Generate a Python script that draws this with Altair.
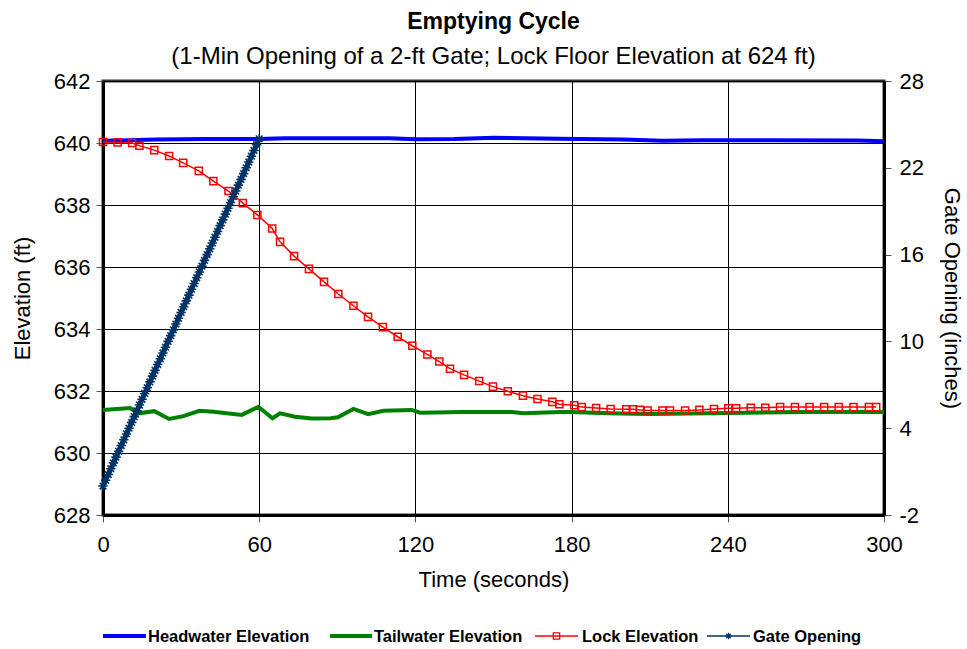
import altair as alt
import pandas as pd

# ---- Series data -------------------------------------------------------
hw_time = [0, 10, 20, 30, 40, 60, 70, 85, 110, 120, 135, 150, 175, 200, 215, 230, 260, 290, 300]
hw_elev = [640.07, 640.09, 640.11, 640.12, 640.13, 640.13, 640.15, 640.15, 640.15, 640.12,
           640.13, 640.17, 640.14, 640.11, 640.07, 640.09, 640.09, 640.08, 640.06]

tw_time = [0, 10.4, 13.6, 19.7, 25.4, 30.9, 37, 42.4, 53.3, 59.7, 65.1, 68, 73.8, 80.2, 87.4,
           90.2, 96.2, 101.9, 107.7, 118.6, 121.8, 138.4, 157, 161.5, 175.6, 179.4, 194.1,
           210, 240, 270, 300]
tw_elev = [631.39, 631.45, 631.28, 631.35, 631.10, 631.19, 631.36, 631.33, 631.23, 631.49,
           631.12, 631.28, 631.17, 631.11, 631.12, 631.15, 631.42, 631.25, 631.36, 631.39,
           631.30, 631.32, 631.32, 631.28, 631.32, 631.32, 631.28, 631.26, 631.29, 631.32, 631.32]

lock_time = [0, 5.6, 11.2, 14, 19.7, 25.4, 30.8, 36.8, 42.4, 48.2, 53.7, 59.3, 65.0, 68.0,
             73.4, 79.1, 84.9, 90.4, 96.2, 101.8, 107.5, 113.2, 118.8, 124.6, 129.2, 133.3,
             138.7, 144.5, 149.8, 155.5, 161.3, 166.9, 172.6, 175.3, 181.0, 183.9, 189.4,
             195.0, 201.0, 203.5, 206.3, 209.2, 214.9, 217.8, 223.6, 229.1, 234.7, 240.2,
             243.2, 248.8, 254.4, 260.1, 265.8, 271.4, 277.0, 282.6, 288.3, 294.2, 297.0]
lock_elev = [640.03, 640.02, 640.00, 639.91, 639.77, 639.58, 639.36, 639.10, 638.77, 638.45,
             638.06, 637.68, 637.24, 636.81, 636.35, 635.94, 635.52, 635.13, 634.75, 634.39,
             634.06, 633.75, 633.46, 633.18, 632.95, 632.72, 632.52, 632.32, 632.14, 631.99,
             631.85, 631.74, 631.65, 631.57, 631.54, 631.48, 631.45, 631.42, 631.41, 631.41,
             631.39, 631.37, 631.37, 631.37, 631.37, 631.39, 631.42, 631.44, 631.44, 631.46,
             631.46, 631.48, 631.48, 631.48, 631.48, 631.48, 631.48, 631.48, 631.48]

gate_time = [0, 1, 2, 3, 4, 5, 6, 7, 8, 9, 10, 11, 12, 13, 14, 15, 16, 17, 18, 19, 20,
             21, 22, 23, 24, 25, 26, 27, 28, 29, 30, 31, 32, 33, 34, 35, 36, 37, 38, 39, 40,
             41, 42, 43, 44, 45, 46, 47, 48, 49, 50, 51, 52, 53, 54, 55, 56, 57, 58, 59, 60]
gate_open = [0.0, 0.4, 0.8, 1.2, 1.6, 2.0, 2.4, 2.8, 3.2, 3.6, 4.0, 4.4, 4.8, 5.2, 5.6, 6.0,
             6.4, 6.8, 7.2, 7.6, 8.0, 8.4, 8.8, 9.2, 9.6, 10.0, 10.4, 10.8, 11.2, 11.6, 12.0,
             12.4, 12.8, 13.2, 13.6, 14.0, 14.4, 14.8, 15.2, 15.6, 16.0, 16.4, 16.8, 17.2,
             17.6, 18.0, 18.4, 18.8, 19.2, 19.6, 20.0, 20.4, 20.8, 21.2, 21.6, 22.0, 22.4,
             22.8, 23.2, 23.6, 24.0]

x_ticks = [0, 60, 120, 180, 240, 300]
left_ticks = [628, 630, 632, 634, 636, 638, 640, 642]
right_ticks = [-2, 4, 10, 16, 22, 28]

series_names = ["Headwater Elevation", "Tailwater Elevation", "Lock Elevation", "Gate Opening"]
series_colors = ["#0000FF", "#008000", "#FF0000", "#003366"]

FONT = "Liberation Sans"
W, H = 781, 434
STAR = "M-1,0L1,0M0,-1L0,1M-0.7,-0.7L0.7,0.7M-0.7,0.7L0.7,-0.7"
PLAIN_LABEL = "datum.value + ''"   # keeps an ASCII hyphen on negative numbers

hw = pd.DataFrame({"t": hw_time, "v": hw_elev})
tw = pd.DataFrame({"t": tw_time, "v": tw_elev})
lk = pd.DataFrame({"t": lock_time, "v": lock_elev})
gt = pd.DataFrame({"t": gate_time, "v": gate_open})

axis_text = dict(labelFont=FONT, titleFont=FONT, labelFontSize=22, titleFontSize=22,
                 labelColor="#000000", titleColor="#000000", titleFontWeight="normal",
                 domainColor="#000000", domainWidth=3, tickColor="#555555", tickSize=7,
                 labelExpr=PLAIN_LABEL, labelFlush=False)

x_enc = alt.X("t:Q", scale=alt.Scale(domain=[0, 300], nice=False),
              axis=alt.Axis(values=x_ticks, title="Time (seconds)", grid=True,
                            gridColor="#000000", gridWidth=1,
                            labelPadding=12, titlePadding=14, **axis_text))

y_left = alt.Y("v:Q", scale=alt.Scale(domain=[628, 642], nice=False, zero=False),
               axis=alt.Axis(values=left_ticks, title="Elevation (ft)", grid=True,
                             gridColor="#000000", gridWidth=1,
                             labelPadding=6, titlePadding=19, **axis_text))

y_right = alt.Y("v:Q", scale=alt.Scale(domain=[-2, 28], nice=False, zero=False),
                axis=alt.Axis(values=right_ticks, title="Gate Opening (inches)",
                              orient="right", grid=False,
                              labelPadding=8, titlePadding=16, **axis_text))

headwater = alt.Chart(hw).mark_line(color=series_colors[0], strokeWidth=4).encode(x=x_enc, y=y_left)
tailwater = alt.Chart(tw).mark_line(color=series_colors[1], strokeWidth=4).encode(x=x_enc, y=y_left)
lock_line = alt.Chart(lk).mark_line(color=series_colors[2], strokeWidth=1.5).encode(x=x_enc, y=y_left)
lock_pts = alt.Chart(lk).mark_point(shape="square", filled=False, color=series_colors[2],
                                    size=50, strokeWidth=1.5, opacity=1).encode(x=x_enc, y=y_left)

gate_line = alt.Chart(gt).mark_line(color=series_colors[3], strokeWidth=5).encode(x=x_enc, y=y_right)
gate_pts = alt.Chart(gt).mark_point(shape=STAR, filled=False, color=series_colors[3],
                                    size=90, strokeWidth=1.6, opacity=1).encode(x=x_enc, y=y_right)

# ---- Legend row below the axis title ------------------------------------
one = pd.DataFrame({"k": [0]})
leg_y = 555
leg_items = [(0, 43, 45), (227, 269, 271), (432, 475, 479), (604, 647, 650)]
legend_layers = []
for i, (x0, x1, tx) in enumerate(leg_items):
    w = 4 if i < 2 else 1.5
    legend_layers.append(
        alt.Chart(one).mark_rule(color=series_colors[i], strokeWidth=w).encode(
            x=alt.value(x0), x2=alt.value(x1), y=alt.value(leg_y)))
    legend_layers.append(
        alt.Chart(one).mark_text(text=series_names[i], align="left", baseline="middle",
                                 font=FONT, fontSize=16.5, fontWeight="bold",
                                 color="#000000").encode(x=alt.value(tx), y=alt.value(leg_y + 1)))
legend_layers.append(
    alt.Chart(one).mark_point(shape="square", filled=False, color=series_colors[2], size=40,
                              strokeWidth=1.3, opacity=1).encode(
        x=alt.value((leg_items[2][0] + leg_items[2][1]) / 2), y=alt.value(leg_y)))
legend_layers.append(
    alt.Chart(one).mark_point(shape=STAR, filled=False, color=series_colors[3], size=40,
                              strokeWidth=1.2, opacity=1).encode(
        x=alt.value((leg_items[3][0] + leg_items[3][1]) / 2), y=alt.value(leg_y)))

left_group = alt.layer(headwater, tailwater, lock_line, lock_pts, *legend_layers)
right_group = alt.layer(gate_line, gate_pts)

chart = alt.layer(left_group, right_group).resolve_scale(y="independent").properties(
    width=W, height=H,
    background="#FFFFFF",
    title=alt.TitleParams(text="Emptying Cycle",
                          subtitle="(1-Min Opening of a 2-ft Gate; Lock Floor Elevation at 624 ft)",
                          font=FONT, fontSize=23, fontWeight="bold", color="#000000",
                          subtitleFont=FONT, subtitleFontSize=24, subtitleColor="#000000",
                          subtitlePadding=11, offset=1, anchor="middle"),
    autosize=alt.AutoSizeParams(type="none"),
    padding={"left": 103, "top": 81, "right": 83, "bottom": 134},
).configure_view(stroke="#333333", strokeWidth=3)

chart.save("out.html", embed_options={"renderer": "svg", "actions": False})
